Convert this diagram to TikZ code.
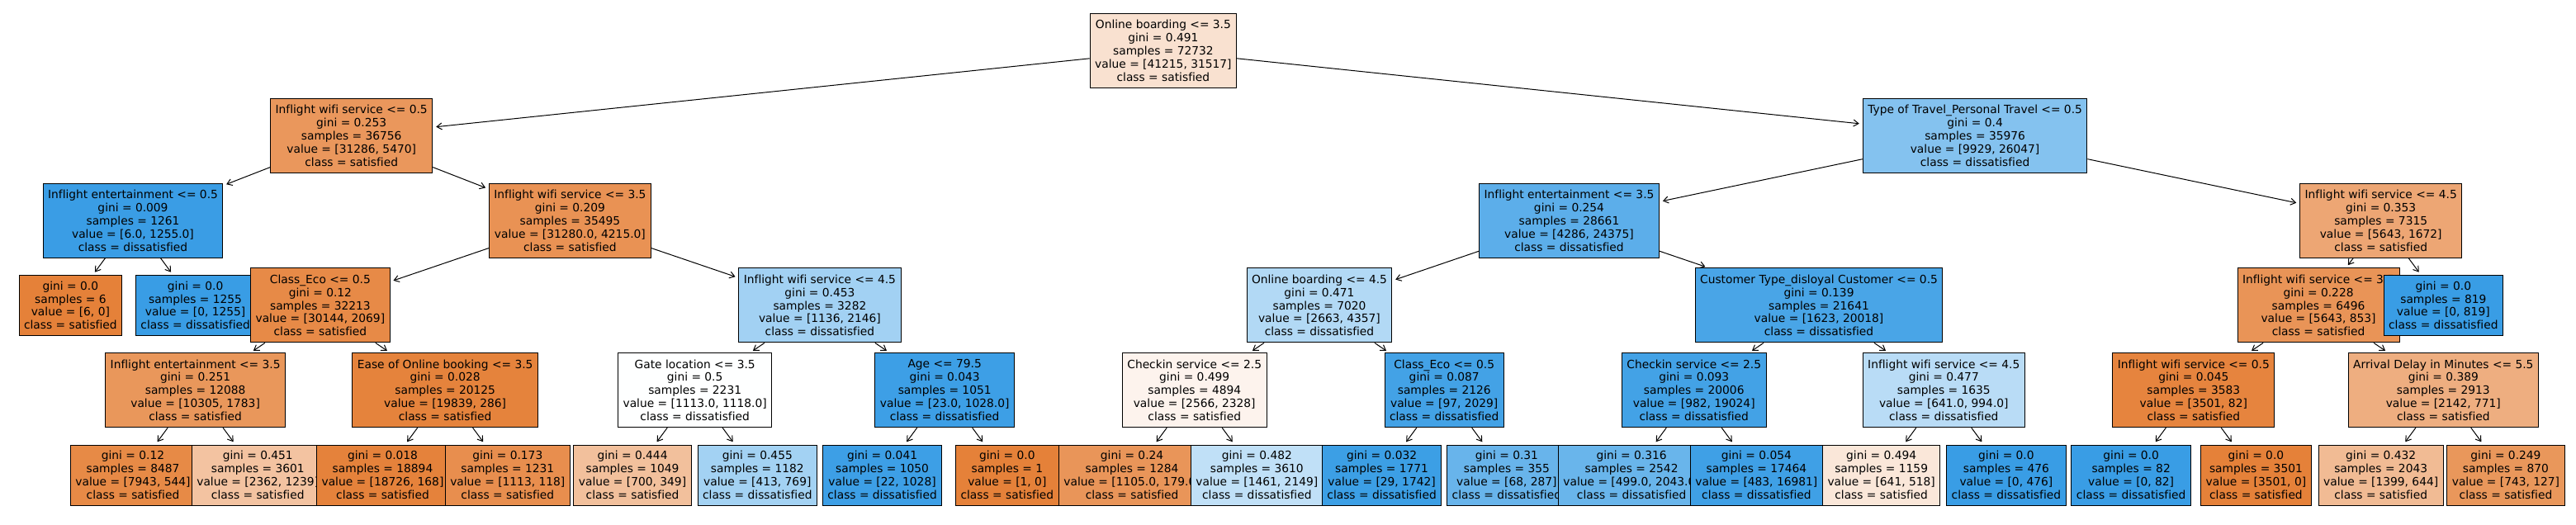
\documentclass[tikz,border=0pt]{standalone}
\usepackage{fontspec}
\setmainfont{DejaVu Sans}[Ligatures=NoCommon]
\usetikzlibrary{arrows.meta,backgrounds}
\definecolor{sat}{RGB}{229,129,57}
\definecolor{dis}{RGB}{57,157,229}
\tikzset{
  tbox/.style={draw=black, line width=1pt, rectangle, align=center, inner xsep=6pt, inner ysep=2pt, font=\fontsize{13.8}{15.9}\selectfont},
  dnode/.style={tbox, minimum height=90pt},
  lnode/.style={tbox, minimum height=73pt},
  conn/.style={line width=1pt, -{Straight Barb[length=6pt,width=8pt]}, shorten >=4pt},
}
\begin{document}
\begin{tikzpicture}[x=151.26pt, y=-1pt]
\useasboundingbox (-1.06439,0) rectangle (19.5624,636);
% depth 5 leaves
\node[lnode, fill=sat!93.2] (L1) at (0,575.5) {gini = 0.12\\samples = 8487\\value = [7943, 544]\\class = satisfied};
\node[lnode, fill=sat!47.5] (L2) at (1,575.5) {gini = 0.451\\samples = 3601\\value = [2362, 1239]\\class = satisfied};
\node[lnode, fill=sat!99.1] (L3) at (2,575.5) {gini = 0.018\\samples = 18894\\value = [18726, 168]\\class = satisfied};
\node[lnode, fill=sat!89.4] (L4) at (3,575.5) {gini = 0.173\\samples = 1231\\value = [1113, 118]\\class = satisfied};
\node[lnode, fill=sat!50.1] (L5) at (4,575.5) {gini = 0.444\\samples = 1049\\value = [700, 349]\\class = satisfied};
\node[lnode, fill=dis!46.3] (L6) at (5,575.5) {gini = 0.455\\samples = 1182\\value = [413, 769]\\class = dissatisfied};
\node[lnode, fill=dis!97.9] (L7) at (6,575.5) {gini = 0.041\\samples = 1050\\value = [22, 1028]\\class = dissatisfied};
\node[lnode, fill=sat] (L8) at (7,575.5) {gini = 0.0\\samples = 1\\value = [1, 0]\\class = satisfied};
\node[lnode, fill=sat!83.8] (L9) at (8,575.5) {gini = 0.24\\samples = 1284\\value = [1105.0, 179.0]\\class = satisfied};
\node[lnode, fill=dis!32.0] (L10) at (9,575.5) {gini = 0.482\\samples = 3610\\value = [1461, 2149]\\class = dissatisfied};
\node[lnode, fill=dis!98.3] (L11) at (10,575.5) {gini = 0.032\\samples = 1771\\value = [29, 1742]\\class = dissatisfied};
\node[lnode, fill=dis!76.3] (L12) at (11,575.5) {gini = 0.31\\samples = 355\\value = [68, 287]\\class = dissatisfied};
\node[lnode, fill=dis!75.6] (L13) at (12,575.5) {gini = 0.316\\samples = 2542\\value = [499.0, 2043.0]\\class = dissatisfied};
\node[lnode, fill=dis!97.2] (L14) at (13,575.5) {gini = 0.054\\samples = 17464\\value = [483, 16981]\\class = dissatisfied};
\node[lnode, fill=sat!19.2] (L15) at (14,575.5) {gini = 0.494\\samples = 1159\\value = [641, 518]\\class = satisfied};
\node[lnode, fill=dis] (L16) at (15,575.5) {gini = 0.0\\samples = 476\\value = [0, 476]\\class = dissatisfied};
\node[lnode, fill=dis] (L17) at (16,575.5) {gini = 0.0\\samples = 82\\value = [0, 82]\\class = dissatisfied};
\node[lnode, fill=sat] (L18) at (17,575.5) {gini = 0.0\\samples = 3501\\value = [3501, 0]\\class = satisfied};
\node[lnode, fill=sat!54] (L19) at (18,575.5) {gini = 0.432\\samples = 2043\\value = [1399, 644]\\class = satisfied};
\node[lnode, fill=sat!82.9] (L20) at (19,575.5) {gini = 0.249\\samples = 870\\value = [743, 127]\\class = satisfied};
% depth 4
\node[dnode, fill=sat!82.7] (A2a1) at (0.5,472.7) {Inflight entertainment <= 3.5\\gini = 0.251\\samples = 12088\\value = [10305, 1783]\\class = satisfied};
\node[dnode, fill=sat!98.6] (A2a2) at (2.5,472.7) {Ease of Online booking <= 3.5\\gini = 0.028\\samples = 20125\\value = [19839, 286]\\class = satisfied};
\node[dnode, fill=dis!0.4] (A2b1) at (4.5,472.7) {Gate location <= 3.5\\gini = 0.5\\samples = 2231\\value = [1113.0, 1118.0]\\class = dissatisfied};
\node[dnode, fill=dis!97.8] (A2b2) at (6.5,472.7) {Age <= 79.5\\gini = 0.043\\samples = 1051\\value = [23.0, 1028.0]\\class = dissatisfied};
\node[dnode, fill=sat!9.3] (B1a1) at (8.5,472.7) {Checkin service <= 2.5\\gini = 0.499\\samples = 4894\\value = [2566, 2328]\\class = satisfied};
\node[dnode, fill=dis!95.2] (B1a2) at (10.5,472.7) {Class\_Eco <= 0.5\\gini = 0.087\\samples = 2126\\value = [97, 2029]\\class = dissatisfied};
\node[dnode, fill=dis!94.8] (B1b1) at (12.5,472.7) {Checkin service <= 2.5\\gini = 0.093\\samples = 20006\\value = [982, 19024]\\class = dissatisfied};
\node[dnode, fill=dis!35.5] (B1b2) at (14.5,472.7) {Inflight wifi service <= 4.5\\gini = 0.477\\samples = 1635\\value = [641.0, 994.0]\\class = dissatisfied};
\node[dnode, fill=sat!97.7] (B2a1) at (16.5,472.7) {Inflight wifi service <= 0.5\\gini = 0.045\\samples = 3583\\value = [3501, 82]\\class = satisfied};
\node[dnode, fill=sat!64] (B2a2) at (18.5,472.7) {Arrival Delay in Minutes <= 5.5\\gini = 0.389\\samples = 2913\\value = [2142, 771]\\class = satisfied};
% depth 3
\node[lnode, fill=sat] (Lf6) at (-0.5,369.9) {gini = 0.0\\samples = 6\\value = [6, 0]\\class = satisfied};
\node[lnode, fill=dis] (Lf1255) at (0.5,369.9) {gini = 0.0\\samples = 1255\\value = [0, 1255]\\class = dissatisfied};
\node[dnode, fill=sat!93.1] (A2a) at (1.5,369.9) {Class\_Eco <= 0.5\\gini = 0.12\\samples = 32213\\value = [30144, 2069]\\class = satisfied};
\node[dnode, fill=dis!47.1] (A2b) at (5.5,369.9) {Inflight wifi service <= 4.5\\gini = 0.453\\samples = 3282\\value = [1136, 2146]\\class = dissatisfied};
\node[dnode, fill=dis!38.9] (B1a) at (9.5,369.9) {Online boarding <= 4.5\\gini = 0.471\\samples = 7020\\value = [2663, 4357]\\class = dissatisfied};
\node[dnode, fill=dis!91.9] (B1b) at (13.5,369.9) {Customer Type\_disloyal Customer <= 0.5\\gini = 0.139\\samples = 21641\\value = [1623, 20018]\\class = dissatisfied};
\node[dnode, fill=sat!84.9] (B2a) at (17.5,369.9) {Inflight wifi service <= 3.5\\gini = 0.228\\samples = 6496\\value = [5643, 853]\\class = satisfied};
\node[lnode, fill=dis] (Lf819) at (18.5,369.9) {gini = 0.0\\samples = 819\\value = [0, 819]\\class = dissatisfied};
% depth 2
\node[dnode, fill=dis!99.5] (A1) at (0,267.1) {Inflight entertainment <= 0.5\\gini = 0.009\\samples = 1261\\value = [6.0, 1255.0]\\class = dissatisfied};
\node[dnode, fill=sat!86.5] (A2) at (3.5,267.1) {Inflight wifi service <= 3.5\\gini = 0.209\\samples = 35495\\value = [31280.0, 4215.0]\\class = satisfied};
\node[dnode, fill=dis!82.4] (B1) at (11.5,267.1) {Inflight entertainment <= 3.5\\gini = 0.254\\samples = 28661\\value = [4286, 24375]\\class = dissatisfied};
\node[dnode, fill=sat!70.4] (B2) at (18,267.1) {Inflight wifi service <= 4.5\\gini = 0.353\\samples = 7315\\value = [5643, 1672]\\class = satisfied};
% depth 1
\node[dnode, fill=sat!82.5] (A) at (1.75,164.3) {Inflight wifi service <= 0.5\\gini = 0.253\\samples = 36756\\value = [31286, 5470]\\class = satisfied};
\node[dnode, fill=dis!61.9] (B) at (14.75,164.3) {Type of Travel\_Personal Travel <= 0.5\\gini = 0.4\\samples = 35976\\value = [9929, 26047]\\class = dissatisfied};
% root
\node[dnode, fill=sat!23.5] (R) at (8.25,61.5) {Online boarding <= 3.5\\gini = 0.491\\samples = 72732\\value = [41215, 31517]\\class = satisfied};
% connectors
\begin{scope}[on background layer]
\fill[white] (-1.06439,0) rectangle (19.5624,636);
\draw[conn] (R) -- (A);
\draw[conn] (R) -- (B);
\draw[conn] (A) -- (A1);
\draw[conn] (A) -- (A2);
\draw[conn] (A1) -- (Lf6);
\draw[conn] (A1) -- (Lf1255);
\draw[conn] (A2) -- (A2a);
\draw[conn] (A2) -- (A2b);
\draw[conn] (A2a) -- (A2a1);
\draw[conn] (A2a) -- (A2a2);
\draw[conn] (A2a1) -- (L1);
\draw[conn] (A2a1) -- (L2);
\draw[conn] (A2a2) -- (L3);
\draw[conn] (A2a2) -- (L4);
\draw[conn] (A2b) -- (A2b1);
\draw[conn] (A2b) -- (A2b2);
\draw[conn] (A2b1) -- (L5);
\draw[conn] (A2b1) -- (L6);
\draw[conn] (A2b2) -- (L7);
\draw[conn] (A2b2) -- (L8);
\draw[conn] (B) -- (B1);
\draw[conn] (B) -- (B2);
\draw[conn] (B1) -- (B1a);
\draw[conn] (B1) -- (B1b);
\draw[conn] (B1a) -- (B1a1);
\draw[conn] (B1a) -- (B1a2);
\draw[conn] (B1a1) -- (L9);
\draw[conn] (B1a1) -- (L10);
\draw[conn] (B1a2) -- (L11);
\draw[conn] (B1a2) -- (L12);
\draw[conn] (B1b) -- (B1b1);
\draw[conn] (B1b) -- (B1b2);
\draw[conn] (B1b1) -- (L13);
\draw[conn] (B1b1) -- (L14);
\draw[conn] (B1b2) -- (L15);
\draw[conn] (B1b2) -- (L16);
\draw[conn] (B2) -- (B2a);
\draw[conn] (B2) -- (Lf819);
\draw[conn] (B2a) -- (B2a1);
\draw[conn] (B2a) -- (B2a2);
\draw[conn] (B2a1) -- (L17);
\draw[conn] (B2a1) -- (L18);
\draw[conn] (B2a2) -- (L19);
\draw[conn] (B2a2) -- (L20);
\end{scope}
\end{tikzpicture}
\end{document}
